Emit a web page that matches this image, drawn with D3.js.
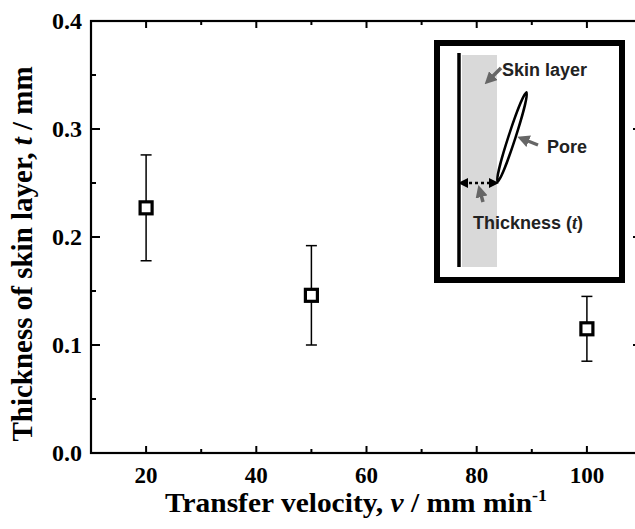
<!DOCTYPE html>
<html>
<head>
<meta charset="utf-8">
<script src="https://cdn.jsdelivr.net/npm/d3@7"></script>
<style>
  body { margin: 0; background: #fff; }
  svg { display: block; }
  .serif { font-family: "Liberation Serif", "Times New Roman", serif; font-weight: bold; }
  .sans { font-family: "Liberation Sans", Arial, sans-serif; font-weight: bold; }
</style>
</head>
<body>
<svg id="chart"></svg>
<script>
// data
const velocities = [20, 50, 100];
const thickness = [0.227, 0.146, 0.115];
const errors = [0.049, 0.046, 0.030];
const xTicks = [20, 40, 60, 80, 100];
const yTicks = [0.0, 0.1, 0.2, 0.3, 0.4];

const W = 635, H = 529;
const svg = d3.select('#chart').attr('width', W).attr('height', H);

// plot box runs past the right edge of the picture
const x = d3.scaleLinear().domain([10, 110]).range([91, 642]);
const y = d3.scaleLinear().domain([0, 0.4]).range([453, 21]);

const minorX = d3.range(10, 111, 10);
const minorY = d3.range(0, 0.401, 0.05);

// ticks (all pointing inward)
const g = svg.append('g');
const tick = (x1, y1, x2, y2) => g.append('line')
  .attr('x1', x1).attr('y1', y1).attr('x2', x2).attr('y2', y2)
  .attr('stroke', '#000').attr('stroke-width', 2);

minorX.forEach(v => {
  const len = (v % 20 === 0) ? 7 : 4;
  tick(x(v), y(0), x(v), y(0) - len);
  tick(x(v), y(0.4), x(v), y(0.4) + len);
});
minorY.forEach(v => {
  const major = Math.abs(Math.round(v * 10) - v * 10) < 1e-6;
  const len = major ? 9 : 5;
  tick(x(10), y(v), x(10) + len, y(v));
  tick(x(110), y(v), x(110) - len, y(v));
});

// frame
g.append('rect')
  .attr('x', x(10)).attr('y', y(0.4))
  .attr('width', x(110) - x(10)).attr('height', y(0) - y(0.4))
  .attr('fill', 'none').attr('stroke', '#000').attr('stroke-width', 2.2);

// tick labels
g.selectAll('.xl').data(xTicks).enter().append('text')
  .attr('class', 'serif')
  .attr('x', d => x(d)).attr('y', 483)
  .attr('text-anchor', 'middle').attr('font-size', 23)
  .text(d => d);

g.selectAll('.yl').data(yTicks).enter().append('text')
  .attr('class', 'serif')
  .attr('x', 82).attr('y', d => y(d) + 8)
  .attr('text-anchor', 'end').attr('font-size', 24)
  .text(d => d.toFixed(1));

// axis titles
const xt = svg.append('text').attr('class', 'serif')
  .attr('x', 356).attr('y', 512).attr('text-anchor', 'middle').attr('font-size', 28)
  .attr('textLength', 382).attr('lengthAdjust', 'spacingAndGlyphs');
xt.append('tspan').text('Transfer velocity, ');
xt.append('tspan').attr('font-style', 'italic').text('v');
xt.append('tspan').text(' / mm min');
xt.append('tspan').attr('font-size', 17).attr('dy', -11).text('-1');

const yt = svg.append('text').attr('class', 'serif')
  .attr('transform', 'translate(32,' + 254 + ') rotate(-90)')
  .attr('text-anchor', 'middle').attr('font-size', 29);
yt.append('tspan').text('Thickness of skin layer, ');
yt.append('tspan').attr('font-style', 'italic').text('t');
yt.append('tspan').text(' / mm');

// error bars
const pts = velocities.map((v, i) => ({ v, t: thickness[i], e: errors[i] }));
const eb = svg.append('g').attr('stroke', '#000').attr('stroke-width', 1.5);
pts.forEach(d => {
  eb.append('line').attr('x1', x(d.v)).attr('x2', x(d.v))
    .attr('y1', y(d.t + d.e)).attr('y2', y(d.t - d.e));
  [d.t + d.e, d.t - d.e].forEach(c => eb.append('line')
    .attr('x1', x(d.v) - 5.5).attr('x2', x(d.v) + 5.5)
    .attr('y1', y(c)).attr('y2', y(c)));
});

// square markers
svg.selectAll('.pt').data(pts).enter().append('rect')
  .attr('x', d => x(d.v) - 6).attr('y', d => y(d.t) - 6)
  .attr('width', 12).attr('height', 12)
  .attr('fill', '#fff').attr('stroke', '#000').attr('stroke-width', 3.2);

// inset diagram
const ins = svg.append('g').attr('transform', 'translate(434,40)');
ins.append('rect').attr('x', 3).attr('y', 3).attr('width', 185).attr('height', 237)
  .attr('fill', '#fff').attr('stroke', '#000').attr('stroke-width', 6);
ins.append('rect').attr('x', 28).attr('y', 15).attr('width', 35).attr('height', 212)
  .attr('fill', '#d9d9d9');
ins.append('line').attr('x1', 25).attr('x2', 25).attr('y1', 13).attr('y2', 227)
  .attr('stroke', '#000').attr('stroke-width', 3.5);

// pore
ins.append('ellipse').attr('cx', 78).attr('cy', 97).attr('rx', 3.5).attr('ry', 47)
  .attr('transform', 'rotate(18,78,97)')
  .attr('fill', '#fff').attr('stroke', '#000').attr('stroke-width', 2.5);

// arrow heads
const defs = svg.append('defs');
defs.append('marker').attr('id', 'ah').attr('viewBox', '0 0 10 10')
  .attr('refX', 5).attr('refY', 5).attr('markerWidth', 3.5).attr('markerHeight', 3.5)
  .attr('orient', 'auto-start-reverse')
  .append('path').attr('d', 'M0,0 L10,5 L0,10 Z').attr('fill', '#666');
defs.append('marker').attr('id', 'bh').attr('viewBox', '0 0 10 10')
  .attr('refX', 5).attr('refY', 5).attr('markerWidth', 4).attr('markerHeight', 4)
  .attr('orient', 'auto-start-reverse')
  .append('path').attr('d', 'M0,0 L10,5 L0,10 Z').attr('fill', '#000');

const arrow = (x1, y1, x2, y2) => ins.append('line')
  .attr('x1', x1).attr('y1', y1).attr('x2', x2).attr('y2', y2)
  .attr('stroke', '#666').attr('stroke-width', 3.5).attr('marker-end', 'url(#ah)');
arrow(67, 28, 55, 40);
arrow(104, 105, 89, 99);
arrow(49, 162, 46, 151);

// thickness double arrow
ins.append('line').attr('x1', 29).attr('x2', 60).attr('y1', 143).attr('y2', 143)
  .attr('stroke', '#000').attr('stroke-width', 2.5).attr('stroke-dasharray', '3,3')
  .attr('marker-start', 'url(#bh)').attr('marker-end', 'url(#bh)');

const lab = (tx, ty, s) => ins.append('text').attr('class', 'sans')
  .attr('x', tx).attr('y', ty).attr('font-size', 18).attr('fill', '#222').text(s);
lab(68, 36, 'Skin layer');
lab(113, 113, 'Pore');
const tk = lab(39, 189, 'Thickness (');
tk.append('tspan').attr('font-style', 'italic').attr('font-family', 'Liberation Serif').text('t');
tk.append('tspan').text(')');
</script>
</body>
</html>
